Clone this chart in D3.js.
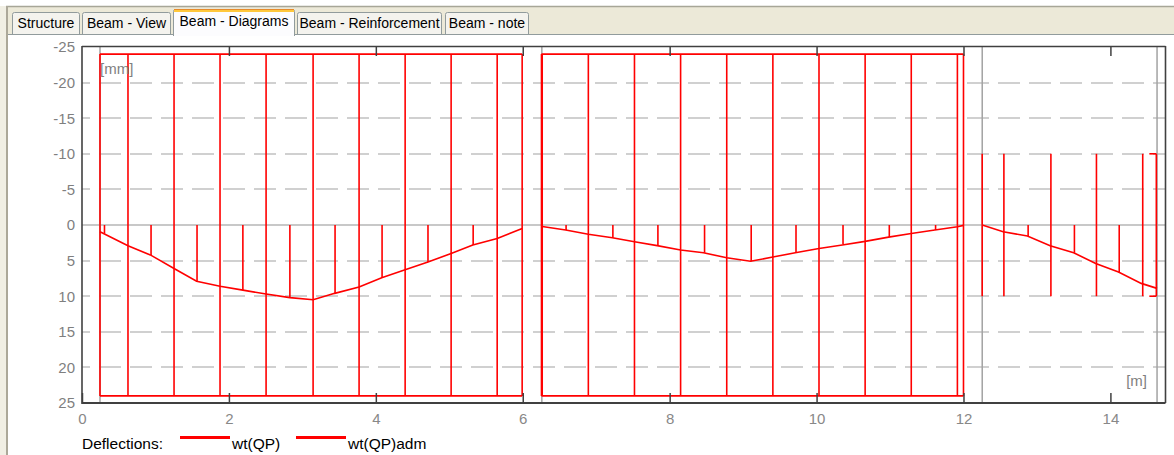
<!DOCTYPE html>
<html><head><meta charset="utf-8">
<script src="https://cdn.jsdelivr.net/npm/d3@7"></script>
<style>
body{margin:0;background:#fff;overflow:hidden;}
svg{display:block;font-family:"Liberation Sans",Arial,sans-serif;}
</style>
</head><body><svg id="c" width="1174" height="455"></svg>
<script>
// ---------- data ----------
const tabs = ["Structure","Beam - View","Beam - Diagrams","Beam - Reinforcement","Beam - note"];
const activeTab = "Beam - Diagrams";
const yTicks = [-25,-20,-15,-10,-5,0,5,10,15,20,25];
const xTicks = [0,2,4,6,8,10,12,14];
const supports = [0.245, 6.26, 12.255, 14.635];
const legendLabels = ["wt(QP)","wt(QP)adm"];

// wt(QP) deflection line [mm], per span
const wt1X = [0.245,0.626,0.93,1.253,1.56,1.879,2.19,2.506,2.83,3.146,3.44,3.772,4.08,4.399,4.71,5.025,5.32,5.652,5.992];
const wt1Y = [0.95,2.9,4.2,6.1,7.9,8.6,9.15,9.7,10.2,10.5,9.6,8.7,7.4,6.3,5.2,4.0,2.8,1.9,0.5];
const wt2X = [6.265,6.585,6.893,7.22,7.521,7.83,8.149,8.46,8.777,9.10,9.405,9.71,10.033,10.35,10.661,10.98,11.289,11.61,11.917,12.0];
const wt2Y = [0.2,0.7,1.3,1.8,2.35,2.9,3.5,3.9,4.6,5.1,4.5,3.9,3.3,2.8,2.3,1.7,1.2,0.7,0.25,0.05];
const wt3X = [12.255,12.54,12.87,13.18,13.50,13.80,14.11,14.42,14.635];
const wt3Y = [0,0.95,1.55,2.9,3.9,5.4,6.6,8.2,8.9];

// wt(QP) stems
const stemX = [0.306,0.94,1.566,2.19,2.83,3.445,4.085,4.71,5.325,
               6.59,7.227,7.84,8.475,9.11,9.72,10.36,10.99,11.62,
               12.88,13.51,14.12];
const stemY = [1.2,4.2,7.9,9.15,10.2,9.6,7.4,5.2,2.8,
               0.7,1.8,2.9,3.9,5.1,3.9,2.7,1.7,0.7,
               1.55,3.9,6.7];

// wt(QP)adm stems (±value)
const admX = [0.245,0.626,1.253,1.879,2.506,3.146,3.772,4.399,5.025,5.652,5.992,
              6.255,6.265,6.893,7.521,8.149,8.777,9.405,10.033,10.661,11.289,11.917,12.0,
              12.255,12.55,13.19,13.81,14.44,14.625];
const admV = [24,24,24,24,24,24,24,24,24,24,24,
              24,24,24,24,24,24,24,24,24,24,24,24,
              10,10,10,10,10,10];
// wt(QP)adm envelope segments
const admEdgeFrom = [0.245, 6.255, 14.53];
const admEdgeTo   = [5.992, 12.0, 14.625];
const admEdgeV    = [24, 24, 10];

// ---------- drawing ----------
const svg = d3.select("#c");
const W = 1174, H = 455;
const red = "#ff0000";
const RW = 1.6;

// window chrome
svg.append("rect").attr("x",0).attr("y",0).attr("width",W).attr("height",H).attr("fill","#ffffff");
svg.append("rect").attr("x",6).attr("y",7).attr("width",W-6).attr("height",27).attr("fill","#ece9d8");
svg.append("line").attr("x1",6).attr("x2",W).attr("y1",6.5).attr("y2",6.5).attr("stroke","#a7a697").attr("stroke-width",1.5);
svg.append("line").attr("x1",7).attr("x2",7).attr("y1",6).attr("y2",H).attr("stroke","#aca899").attr("stroke-width",2);
svg.append("rect").attr("x",0).attr("y",6).attr("width",6).attr("height",H-6).attr("fill","#f1efe4");
svg.append("line").attr("x1",8).attr("x2",W).attr("y1",34.5).attr("y2",34.5).attr("stroke","#919b9c").attr("stroke-width",1);

// tabs
const tabX0 = [12,82,173,297,445];
const tabX1 = [80,171,295,442,529];
const tg = svg.append("g").attr("font-size",14);
tabs.forEach((t,i)=>{
  const act = t===activeTab;
  const y0 = act? 9 : 12, y1 = act? 36 : 34;
  const g = tg.append("g");
  g.append("path")
    .attr("d",`M${tabX0[i]+0.5},${y1} V${y0+2.5} Q${tabX0[i]+0.5},${y0+0.5} ${tabX0[i]+2.5},${y0+0.5} H${tabX1[i]-2.5} Q${tabX1[i]-0.5},${y0+0.5} ${tabX1[i]-0.5},${y0+2.5} V${y1}`)
    .attr("fill", act? "#fcfcfe" : "#f4f3ee")
    .attr("stroke","#919b9c");
  if(act){
    g.append("line").attr("x1",tabX0[i]+1).attr("x2",tabX1[i]-1).attr("y1",9.5).attr("y2",9.5).attr("stroke","#e68b2c").attr("stroke-width",1);
    g.append("line").attr("x1",tabX0[i]+1).attr("x2",tabX1[i]-1).attr("y1",11).attr("y2",11).attr("stroke","#ffc83c").attr("stroke-width",2);
  }
  g.append("text").attr("x",(tabX0[i]+tabX1[i])/2).attr("y", act? 26 : 28)
    .attr("text-anchor","middle").attr("fill","#000").text(t);
});

// scales
const x = d3.scaleLinear().domain([0,14.75]).range([82,1165.5]);
const y = d3.scaleLinear().domain([-25,25]).range([47,403]);
const plotL = x(0), plotR = x(14.75), plotT = 46, plotB = 403;

// gridlines
const grid = svg.append("g");
yTicks.filter(v=>v!==-25 && v!==25).forEach(v=>{
  grid.append("line").attr("x1",plotL).attr("x2",plotR).attr("y1",Math.round(y(v))).attr("y2",Math.round(y(v)))
    .attr("stroke", v===0? "#c8c8c8" : "#d0d0d0").attr("stroke-width",2)
    .attr("stroke-dasharray", v===0? null : "22,9").attr("stroke-dashoffset",14);
});

// supports
grid.selectAll("line.sup").data(supports).join("line").attr("class","sup")
  .attr("x1",d=>x(d)).attr("x2",d=>x(d)).attr("y1",plotT).attr("y2",plotB)
  .attr("stroke","#a3a3a3").attr("stroke-width",1.5);

// adm stems & edges
const adm = svg.append("g");
adm.selectAll("line.as").data(admX.map((d,i)=>[d,admV[i]])).join("line").attr("class","as")
  .attr("x1",d=>x(d[0])).attr("x2",d=>x(d[0]))
  .attr("y1",d=>y(-d[1])).attr("y2",d=>y(d[1]))
  .attr("stroke",red).attr("stroke-width",RW);
admEdgeFrom.forEach((f,i)=>{
  [-1,1].forEach(s=>{
    adm.append("line").attr("x1",x(f)).attr("x2",x(admEdgeTo[i]))
      .attr("y1",y(s*admEdgeV[i])).attr("y2",y(s*admEdgeV[i]))
      .attr("stroke",red).attr("stroke-width",RW);
  });
});

// wt stems
adm.selectAll("line.ws").data(stemX.map((d,i)=>[d,stemY[i]])).join("line").attr("class","ws")
  .attr("x1",d=>x(d[0])).attr("x2",d=>x(d[0]))
  .attr("y1",y(0)).attr("y2",d=>y(d[1]))
  .attr("stroke",red).attr("stroke-width",RW);

// wt curve
const line = d3.line().x(d=>x(d[0])).y(d=>y(d[1]));
[[wt1X,wt1Y],[wt2X,wt2Y],[wt3X,wt3Y]].forEach(([xs,ys])=>{
  svg.append("path").datum(xs.map((d,i)=>[d,ys[i]])).attr("d",line)
    .attr("fill","none").attr("stroke",red).attr("stroke-width",1.6);
});

// axes frame
const ax = svg.append("g").attr("fill","none");
ax.append("line").attr("x1",plotL).attr("x2",plotR).attr("y1",plotT+0.5).attr("y2",plotT+0.5).attr("stroke","#404040").attr("stroke-width",1.3);
ax.append("line").attr("x1",plotR).attr("x2",plotR).attr("y1",plotT).attr("y2",plotB).attr("stroke","#404040").attr("stroke-width",1.6);
ax.append("line").attr("x1",plotL).attr("x2",plotL).attr("y1",plotT).attr("y2",plotB+1).attr("stroke","#404040").attr("stroke-width",1.6);
ax.append("line").attr("x1",plotL).attr("x2",plotR).attr("y1",plotB).attr("y2",plotB).attr("stroke","#404040").attr("stroke-width",2);

// y labels
const yAx = svg.append("g").attr("transform",`translate(${plotL},0)`)
  .call(d3.axisLeft(y).tickValues(yTicks).tickSize(0).tickPadding(7).tickFormat(d=>String(d)));
yAx.select(".domain").remove();
yAx.selectAll("text").attr("fill","#7f7f7f").attr("font-size",15).attr("font-family","Liberation Sans, Arial, sans-serif");

// x axis labels + inward ticks
const xAx = svg.append("g").attr("transform",`translate(0,${plotB})`)
  .call(d3.axisBottom(x).tickValues(xTicks).tickSizeInner(-10).tickSizeOuter(0).tickPadding(10).tickFormat(d=>String(d)));
xAx.select(".domain").remove();
xAx.selectAll("line").attr("stroke","#404040").attr("stroke-width",1.5);
xAx.selectAll("text").attr("fill","#888888").attr("font-size",15).attr("font-family","Liberation Sans, Arial, sans-serif");
const xTop = svg.append("g").attr("transform",`translate(0,${plotT})`)
  .call(d3.axisTop(x).tickValues(xTicks.filter(v=>v>0)).tickSizeInner(-10).tickSizeOuter(0).tickFormat(""));
xTop.select(".domain").remove();
xTop.selectAll("line").attr("stroke","#404040").attr("stroke-width",1.5);

// units
svg.append("text").attr("x",x(0.245)).attr("y",74).attr("font-size",15).attr("fill","#7f7f7f").text("[mm]");
svg.append("text").attr("x",1147).attr("y",386).attr("text-anchor","end").attr("font-size",15).attr("fill","#7f7f7f").text("[m]");

// legend
const lg = svg.append("g").attr("font-size",15.5).attr("fill","#000");
lg.append("text").attr("x",82).attr("y",449).text("Deflections:");
const lgX = [180,296];
legendLabels.forEach((l,i)=>{
  lg.append("line").attr("x1",lgX[i]).attr("x2",lgX[i]+50).attr("y1",437.5).attr("y2",437.5).attr("stroke",red).attr("stroke-width",3);
  lg.append("text").attr("x",lgX[i]+52).attr("y",449).text(l);
});
</script>
</body></html>
